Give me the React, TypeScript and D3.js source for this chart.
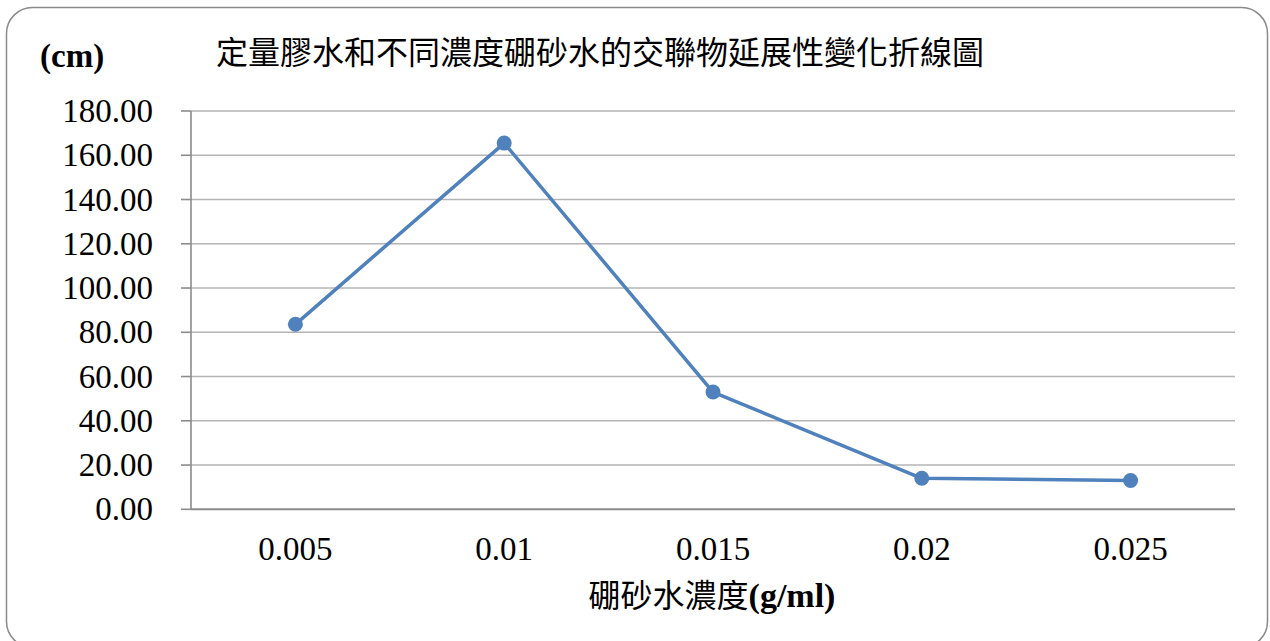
import React from "react";
import * as d3 from "d3";

// Borax concentration (g/ml) on the category axis
const concentrations = ["0.005", "0.01", "0.015", "0.02", "0.025"];
// Stretch length of the cross-linked glue (cm)
const stretchLengths = [83.6, 165.5, 53.0, 14.0, 13.0];
// Value axis ticks
const yTickValues = [0, 20, 40, 60, 80, 100, 120, 140, 160, 180];

const title = "定量膠水和不同濃度硼砂水的交聯物延展性變化折線圖";
const yUnit = "(cm)";
const xTitleCJK = "硼砂水濃度";
const xTitleUnit = "(g/ml)";

const W = 1270;
const H = 641;
const plot = { left: 191, right: 1235, top: 111, bottom: 509.3 };

const serif = "'Liberation Serif', 'Times New Roman', serif";
const cjk = "'Noto Sans CJK TC', 'Noto Sans CJK SC', sans-serif";

export default function App() {
  const x = d3
    .scaleBand<string>()
    .domain(concentrations)
    .range([plot.left, plot.right])
    .paddingInner(0)
    .paddingOuter(0);
  const y = d3.scaleLinear().domain([0, 180]).range([plot.bottom, plot.top]);

  const points: [number, number][] = concentrations.map((c, i) => [
    (x(c) as number) + x.bandwidth() / 2,
    y(stretchLengths[i]),
  ]);
  const linePath = d3.line()(points) as string;

  return (
    <svg
      width={W}
      height={H}
      viewBox={`0 0 ${W} ${H}`}
      style={{ position: "absolute", left: 0, top: 0, background: "#fff" }}
    >
      <rect
        x={6.5}
        y={7.5}
        width={1261}
        height={640}
        rx={26}
        ry={26}
        fill="#fff"
        stroke="#8a8a8a"
        strokeWidth={1.5}
      />

      {/* title */}
      <text
        x={600}
        y={50}
        textAnchor="middle"
        dominantBaseline="central"
        fontFamily={cjk}
        fontSize={32}
        fill="#000"
      >
        {title}
      </text>

      {/* unit of the value axis */}
      <text x={40} y={67} fontFamily={serif} fontWeight="bold" fontSize={33} fill="#000">
        {yUnit}
      </text>

      {/* horizontal gridlines */}
      {yTickValues.map((v) => (
        <line
          key={"g" + v}
          x1={plot.left}
          x2={plot.right}
          y1={y(v)}
          y2={y(v)}
          stroke={v === 0 ? "#8c8c8c" : "#b4b4b4"}
          strokeWidth={v === 0 ? 2 : 1.6}
        />
      ))}

      {/* value axis */}
      <line
        x1={plot.left}
        x2={plot.left}
        y1={plot.top}
        y2={plot.bottom}
        stroke="#8c8c8c"
        strokeWidth={1.6}
      />
      {yTickValues.map((v) => (
        <g key={"t" + v}>
          <line
            x1={plot.left - 10}
            x2={plot.left}
            y1={y(v)}
            y2={y(v)}
            stroke="#8c8c8c"
            strokeWidth={1.6}
          />
          <text
            x={153}
            y={y(v) + 11}
            textAnchor="end"
            fontFamily={serif}
            fontSize={33}
            fill="#000"
          >
            {v.toFixed(2)}
          </text>
        </g>
      ))}

      {/* category labels */}
      {concentrations.map((c) => (
        <text
          key={"x" + c}
          x={(x(c) as number) + x.bandwidth() / 2}
          y={560}
          textAnchor="middle"
          fontFamily={serif}
          fontSize={33}
          fill="#000"
        >
          {c}
        </text>
      ))}

      {/* category axis title */}
      <text x={712} y={607} textAnchor="middle" fill="#000">
        <tspan fontFamily={cjk} fontSize={32}>
          {xTitleCJK}
        </tspan>
        <tspan fontFamily={serif} fontWeight="bold" fontSize={34}>
          {xTitleUnit}
        </tspan>
      </text>

      {/* data line */}
      <path d={linePath} fill="none" stroke="#4f81bd" strokeWidth={3.5} strokeLinejoin="round" />
      {points.map(([px, py], i) => (
        <circle key={"p" + i} cx={px} cy={py} r={7.5} fill="#4f81bd" />
      ))}
    </svg>
  );
}
